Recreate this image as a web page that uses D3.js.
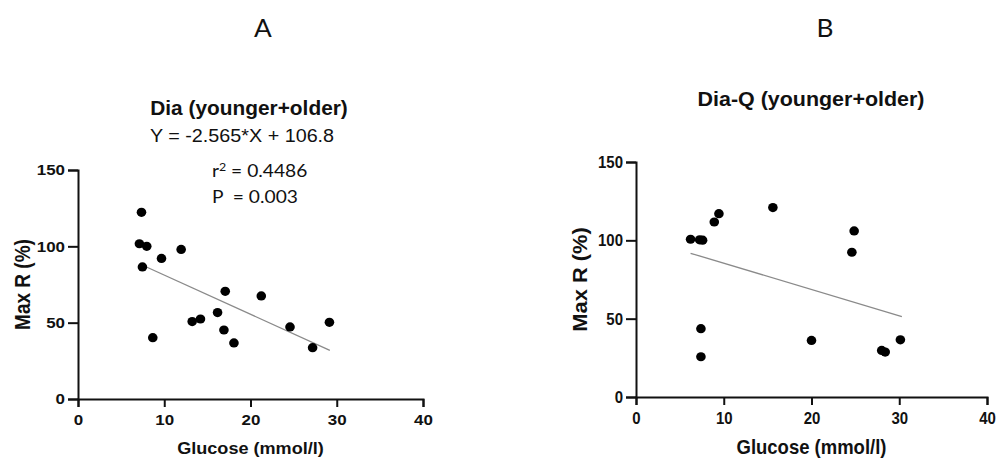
<!DOCTYPE html>
<html>
<head>
<meta charset="utf-8">
<script src="https://cdn.jsdelivr.net/npm/d3@7"></script>
<style>
body { margin: 0; background: #fff; }
svg { display: block; }
text { fill: #111; }
</style>
</head>
<body>
<svg id="chart" width="997" height="459"></svg>
<script>
// panel A: Dia (younger+older)
var glucoseA = [7.36, 7.12, 7.97, 7.47, 9.68, 11.96, 8.67, 13.24, 14.2, 16.18, 17.07, 16.92, 18.08, 21.25, 24.58, 27.2, 29.15];
var maxRA    = [122.3, 101.7, 100, 86.5, 92.1, 98, 40.2, 50.7, 52.4, 56.6, 70.5, 45.2, 36.7, 67.5, 47.2, 33.6, 50.2];
var fitA = [8.0, 29.2];  // x range of the fit line
var slopeA = -2.565, interceptA = 106.8;

// panel B: Dia-Q (younger+older)
var glucoseB = [6.22, 7.25, 7.59, 8.92, 9.45, 15.6, 24.6, 24.86, 7.4, 7.4, 20.0, 28.0, 28.4, 30.13];
var maxRB    = [100.7, 100.3, 100.1, 111.7, 117, 120.9, 92.4, 106, 43.6, 25.7, 36.1, 29.7, 28.7, 36.5];
var fitB = [6.22, 30.3];
var slopeB = -1.68, interceptB = 102.2;

var xTicks = [0, 10, 20, 30, 40];
var yTicks = [0, 50, 100, 150];

var ARIAL = "'Liberation Sans', Arial, sans-serif";
var CALIBRI = "Lato, 'Open Sans', sans-serif";

var svg = d3.select("#chart");

// the two panels of the original image were stretched differently,
// so each text gets its own sx / sy
function label(g, o) {
	var tr = "translate(" + o.x + "," + o.y + ")";
	if (o.rot) tr += " rotate(" + o.rot + ") scale(" + o.sy + "," + o.sx + ")";
	else tr += " scale(" + o.sx + "," + o.sy + ")";
	var t = g.append("text")
		.attr("transform", tr)
		.attr("text-anchor", o.anchor || "middle")
		.style("font-family", o.family)
		.style("font-weight", o.bold ? "bold" : "normal")
		.style("font-size", o.size + "px")
		.style("white-space", "pre");
	if (o.text) t.text(o.text);
	return t;
}

function drawPanel(opt) {
	var x = d3.scaleLinear().domain([0, 40]).range([opt.left, opt.right]);
	var y = d3.scaleLinear().domain([0, 150]).range([opt.bottom, opt.top]);
	var g = svg.append("g");
	var sx = opt.sx, sy = opt.sy;

	var xAxis = g.append("g")
		.attr("transform", "translate(0," + opt.bottom + ")")
		.call(d3.axisBottom(x).tickValues(xTicks).tickSize(8).tickPadding(7));
	var yAxis = g.append("g")
		.attr("transform", "translate(" + opt.left + ",0)")
		.call(d3.axisLeft(y).tickValues(yTicks).tickSize(10).tickPadding(3));

	[xAxis, yAxis].forEach(function(a) {
		a.select(".domain").attr("stroke", "#111").attr("stroke-width", 2);
		a.selectAll(".tick line").attr("stroke", "#111").attr("stroke-width", 2);
		a.selectAll(".tick text")
			.attr("fill", "#111")
			.style("font-family", ARIAL)
			.style("font-weight", "bold")
			.style("font-size", opt.tickSize + "px");
	});
	xAxis.selectAll(".tick text").attr("y", 15 / sy).attr("transform", "scale(" + sx + "," + sy + ")");
	yAxis.selectAll(".tick text").attr("x", -13 / sx).attr("transform", "scale(" + sx + "," + sy + ")");

	// fit line
	g.append("line")
		.attr("x1", x(opt.fit[0]))
		.attr("y1", y(opt.slope * opt.fit[0] + opt.intercept))
		.attr("x2", x(opt.fit[1]))
		.attr("y2", y(opt.slope * opt.fit[1] + opt.intercept))
		.attr("stroke", "#8a8a8a")
		.attr("stroke-width", 1.3);

	g.selectAll("ellipse")
		.data(opt.xs)
		.enter()
		.append("ellipse")
		.attr("cx", d => x(d))
		.attr("cy", (d, i) => y(opt.ys[i]))
		.attr("rx", 4.8)
		.attr("ry", 4.6)
		.attr("fill", "#000");

	label(g, {x: (opt.left + opt.right) / 2, y: 454, text: "Glucose (mmol/l)", size: opt.xlabSize, family: ARIAL, bold: true, sx: sx, sy: sy});
	label(g, {x: opt.ylabelX, y: (opt.top + opt.bottom) / 2, text: "Max R (%)", size: opt.ylabSize, family: ARIAL, bold: true, rot: -90, sx: sx, sy: sy});
	label(g, {x: opt.letterX, y: 37, text: opt.letter, size: 25, family: CALIBRI, sx: 1.05, sy: 1});
	label(g, {x: opt.titleX, y: opt.titleY, text: opt.title, size: 19.5, family: ARIAL, bold: true, sx: opt.titleSx, sy: 1});

	return g;
}

var gA = drawPanel({
	left: 78, right: 423, top: 170, bottom: 399, sx: 1.13, sy: 1,
	tickSize: 15, xlabSize: 16, ylabSize: 19, titleSx: 1.07,
	xs: glucoseA, ys: maxRA, fit: fitA, slope: slopeA, intercept: interceptA,
	ylabelX: 30, letter: "A", letterX: 263, title: "Dia (younger+older)", titleX: 249, titleY: 115
});

label(gA, {x: 242, y: 142, text: "Y = -2.565*X + 106.8", size: 17.5, family: ARIAL, sx: 1.13, sy: 1});

var stats = label(gA, {x: 212, y: 177, size: 17, family: CALIBRI, anchor: "start", sx: 1.13, sy: 1});
stats.append("tspan").text("r");
stats.append("tspan").attr("dy", -6).style("font-size", "11px").text("2");
stats.append("tspan").attr("dy", 6).text(" = 0.4486");

label(gA, {x: 212, y: 203, text: "P  = 0.003", size: 17, family: CALIBRI, anchor: "start", sx: 1.13, sy: 1});

drawPanel({
	left: 636, right: 987, top: 162, bottom: 397, sx: 1.0, sy: 1.12,
	tickSize: 15, xlabSize: 18.5, ylabSize: 19.5, titleSx: 1.1,
	xs: glucoseB, ys: maxRB, fit: fitB, slope: slopeB, intercept: interceptB,
	ylabelX: 587, letter: "B", letterX: 825, title: "Dia-Q (younger+older)", titleX: 811, titleY: 106
});
</script>
</body>
</html>
